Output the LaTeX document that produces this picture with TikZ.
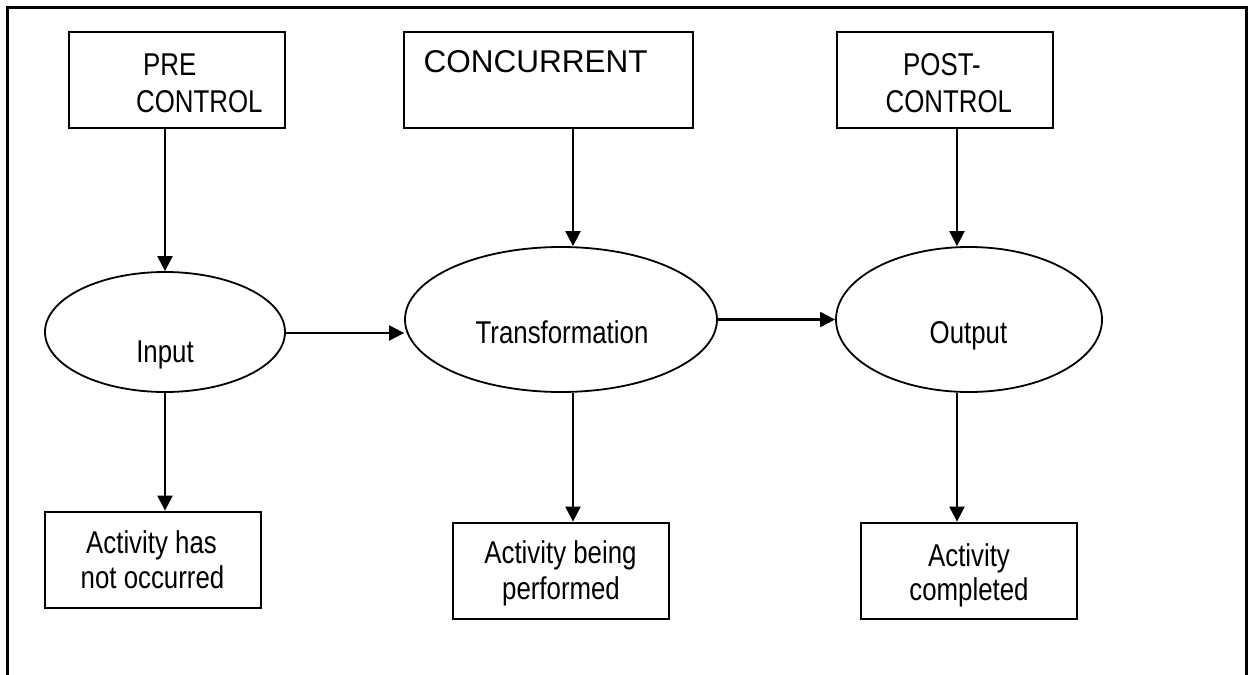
\documentclass[tikz,border=0pt]{standalone}
\usepackage{fontspec}
\usetikzlibrary{shapes.geometric,arrows.meta}
\newfontfamily\narrowfont[FakeStretch=0.82]{Liberation Sans}
\newfontfamily\widefont{Liberation Sans}
\newcommand\lblfont{\narrowfont\fontsize{31.5}{36}\selectfont}
\newcommand\capfont{\widefont\fontsize{31.5}{36}\selectfont}

\tikzset{
  box/.style={draw, line width=2.8pt, minimum width=216pt, minimum height=96pt, inner sep=0pt},
  oval/.style={draw, ellipse, line width=1.8pt, inner sep=0pt},
  lbl/.style={inner sep=0pt, font=\lblfont},
  arr/.style={line width=2.2pt, -{Triangle[length=15pt,width=15pt]}},
}

\begin{document}
\begin{tikzpicture}[x=1pt, y=-1pt]
\useasboundingbox (0,0) rectangle (1251,675);

% open frame around the diagram
\draw[line width=3pt] (7,675) -- (7,7) -- (1246,7) -- (1246,675);

% control boxes
\node[box] (pre)  at (177,80) {};
\node[box, minimum width=289pt] (conc) at (548.5,80) {};
\node[box] (post) at (945,80) {};

\node[lbl, anchor=base west] (preA) at (143,75) {PRE};
\node[lbl, anchor=base west] (preB) at (136,112) {CONTROL};
\node[inner sep=0pt, font=\capfont, anchor=base west] (concA) at (423.5,72) {CONCURRENT};
\node[lbl, anchor=base west] (postA) at (903,75) {POST-};
\node[lbl, anchor=base west] (postB) at (885.5,112) {CONTROL};

% process stages
\node[oval, minimum width=240pt, minimum height=120pt] (input) at (165,332) {};
\node[oval, minimum width=312pt, minimum height=145pt] (trans) at (561,319.5) {};
\node[oval, minimum width=266pt, minimum height=145pt] (out)   at (969,319.5) {};

\node[lbl, anchor=base] (inputT) at (165,362) {Input};
\node[lbl, anchor=base] (transT) at (562,343) {Transformation};
\node[lbl, anchor=base] (outT)   at (968.5,343) {Output};

% state boxes
\node[box] (act1) at (153,560) {};
\node[box] (act2) at (561,571) {};
\node[box] (act3) at (969,571) {};

\node[lbl, anchor=base] (act1A) at (151.5,553) {Activity has};
\node[lbl, anchor=base] (act1B) at (152.5,588) {not occurred};
\node[lbl, anchor=base] (act2A) at (560.5,563) {Activity being};
\node[lbl, anchor=base] (act2B) at (561,599) {performed};
\node[lbl, anchor=base] (act3A) at (969,566) {Activity};
\node[lbl, anchor=base] (act3B) at (969,600) {completed};

% vertical guide lines of the middle and right columns
\coordinate (midcol) at ([xshift=24.5pt]conc.south);
\coordinate (rightcol) at ([xshift=12pt]post.south);

% connectors
\draw[arr] (input.north |- pre.south) -- (input.north);
\draw[arr] (midcol) -- (midcol |- trans.north);
\draw[arr] (rightcol) -- (rightcol |- out.north);

\draw[arr] ([yshift=-1pt]input.east) -- ([yshift=-1pt]input.east -| trans.west);
\draw[arr] (trans.east) -- (out.west);

\draw[arr] (input.south) -- (input.south |- act1.north);
\draw[arr] (midcol |- trans.south) -- (midcol |- act2.north);
\draw[arr] (rightcol |- out.south) -- (rightcol |- act3.north);
\end{tikzpicture}
\end{document}
